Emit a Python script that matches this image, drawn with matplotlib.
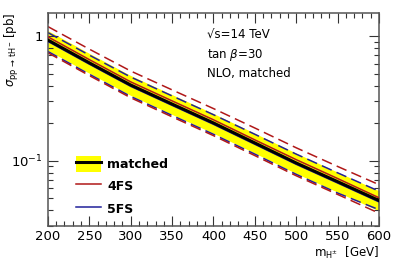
import numpy as np
import matplotlib
matplotlib.use('Agg')
import matplotlib.pyplot as plt
from matplotlib.patches import Patch
from matplotlib.lines import Line2D
from matplotlib.ticker import MultipleLocator, FixedLocator, FixedFormatter

# charged Higgs mass [GeV]
masses = [200, 250, 300, 350, 400, 450, 500, 550, 600]

# matched result, with its uncertainty band [pb]
matched = [0.929, 0.610, 0.405, 0.285, 0.201, 0.139, 0.096, 0.068, 0.048]
band_up = [1.105, 0.726, 0.482, 0.339, 0.239, 0.166, 0.115, 0.081, 0.0575]
band_dn = [0.766, 0.503, 0.334, 0.235, 0.166, 0.115, 0.079, 0.056, 0.0396]

# 4-flavour scheme
fs4 = [0.985, 0.647, 0.429, 0.302, 0.213, 0.147, 0.102, 0.072, 0.0505]
fs4_up = [1.19, 0.785, 0.524, 0.370, 0.262, 0.183, 0.127, 0.090, 0.0643]
fs4_dn = [0.734, 0.482, 0.320, 0.225, 0.159, 0.110, 0.0758, 0.0537, 0.0380]

# 5-flavour scheme
fs5 = [0.906, 0.595, 0.395, 0.278, 0.196, 0.1355, 0.0936, 0.0663, 0.0468]
fs5_up = [1.065, 0.703, 0.469, 0.331, 0.234, 0.163, 0.113, 0.080, 0.0570]
fs5_dn = [0.752, 0.494, 0.328, 0.231, 0.163, 0.113, 0.0778, 0.0551, 0.0405]

red = '#b01818'
blue = '#20209a'
dash = (7, 3.5)

fig = plt.figure(figsize=(3.99, 2.70), dpi=100)
ax = fig.add_axes([0.120, 0.163, 0.830, 0.789])

ax.fill_between(masses, band_dn, band_up, color='#ffff00', lw=0, zorder=1)

for ys in (fs5_up, fs5_dn):
    ax.plot(masses, ys, color=blue, lw=1.1, dashes=dash, zorder=2)
for ys in (fs4_up, fs4_dn):
    ax.plot(masses, ys, color=red, lw=1.1, dashes=dash, zorder=2)

ax.plot(masses, fs5, color=blue, lw=1.1, zorder=3)
ax.plot(masses, fs4, color=red, lw=1.1, zorder=3)
ax.plot(masses, matched, color='black', lw=2.2, zorder=4)

ax.set_yscale('log')
ax.set_xlim(200, 600)
ax.set_ylim(0.030, 1.53)

ax.xaxis.set_major_locator(MultipleLocator(50))
ax.xaxis.set_minor_locator(MultipleLocator(10))
ax.yaxis.set_major_locator(FixedLocator([0.1, 1]))
ax.yaxis.set_major_formatter(FixedFormatter([r'$10^{-1}$', '1']))
ax.yaxis.set_minor_locator(FixedLocator([0.03, 0.04, 0.05, 0.06, 0.07, 0.08, 0.09,
                                         0.2, 0.3, 0.4, 0.5, 0.6, 0.7, 0.8, 0.9]))
ax.yaxis.set_minor_formatter(FixedFormatter([]))

ax.tick_params(which='both', direction='in', top=True, right=True, labelsize=9.5,
               color='#333333')
ax.tick_params(which='major', length=7, width=0.8)
ax.tick_params(which='minor', length=3.5, width=0.8)
ax.tick_params(axis='x', pad=3)
for s in ax.spines.values():
    s.set_color('#555555')
    s.set_linewidth(1.1)

ax.set_xlabel(r'm$_{\mathrm{H}^{\pm}}$  [GeV]', fontsize=8.5, loc='right', labelpad=1)
ax.set_ylabel(r'$\sigma_{\mathrm{pp}\,\rightarrow\,\mathrm{tH}^{-}}$ [pb]', fontsize=8.5,
              loc='top')
ax.yaxis.set_label_coords(-0.082, 1.0)

ax.text(0.48, 0.897, '√s=14 TeV', transform=ax.transAxes, fontsize=8.5, va='center')
ax.text(0.48, 0.803, r'tan $\beta$=30', transform=ax.transAxes, fontsize=8.5, va='center')
ax.text(0.48, 0.718, 'NLO, matched', transform=ax.transAxes, fontsize=8.5, va='center')

handles = [(Patch(facecolor='#ffff00', edgecolor='none'), Line2D([], [], color='black', lw=2.2)),
           Line2D([], [], color=red, lw=1.1),
           Line2D([], [], color=blue, lw=1.1)]
ax.legend(handles, ['matched', '4FS', '5FS'], loc='lower left', bbox_to_anchor=(0.05, -0.01),
          frameon=False, prop={'weight': 'bold', 'size': 9}, handlelength=2.0,
          handleheight=1.6, labelspacing=0.52, handletextpad=0.5)

fig.savefig('out.png', dpi=100)
